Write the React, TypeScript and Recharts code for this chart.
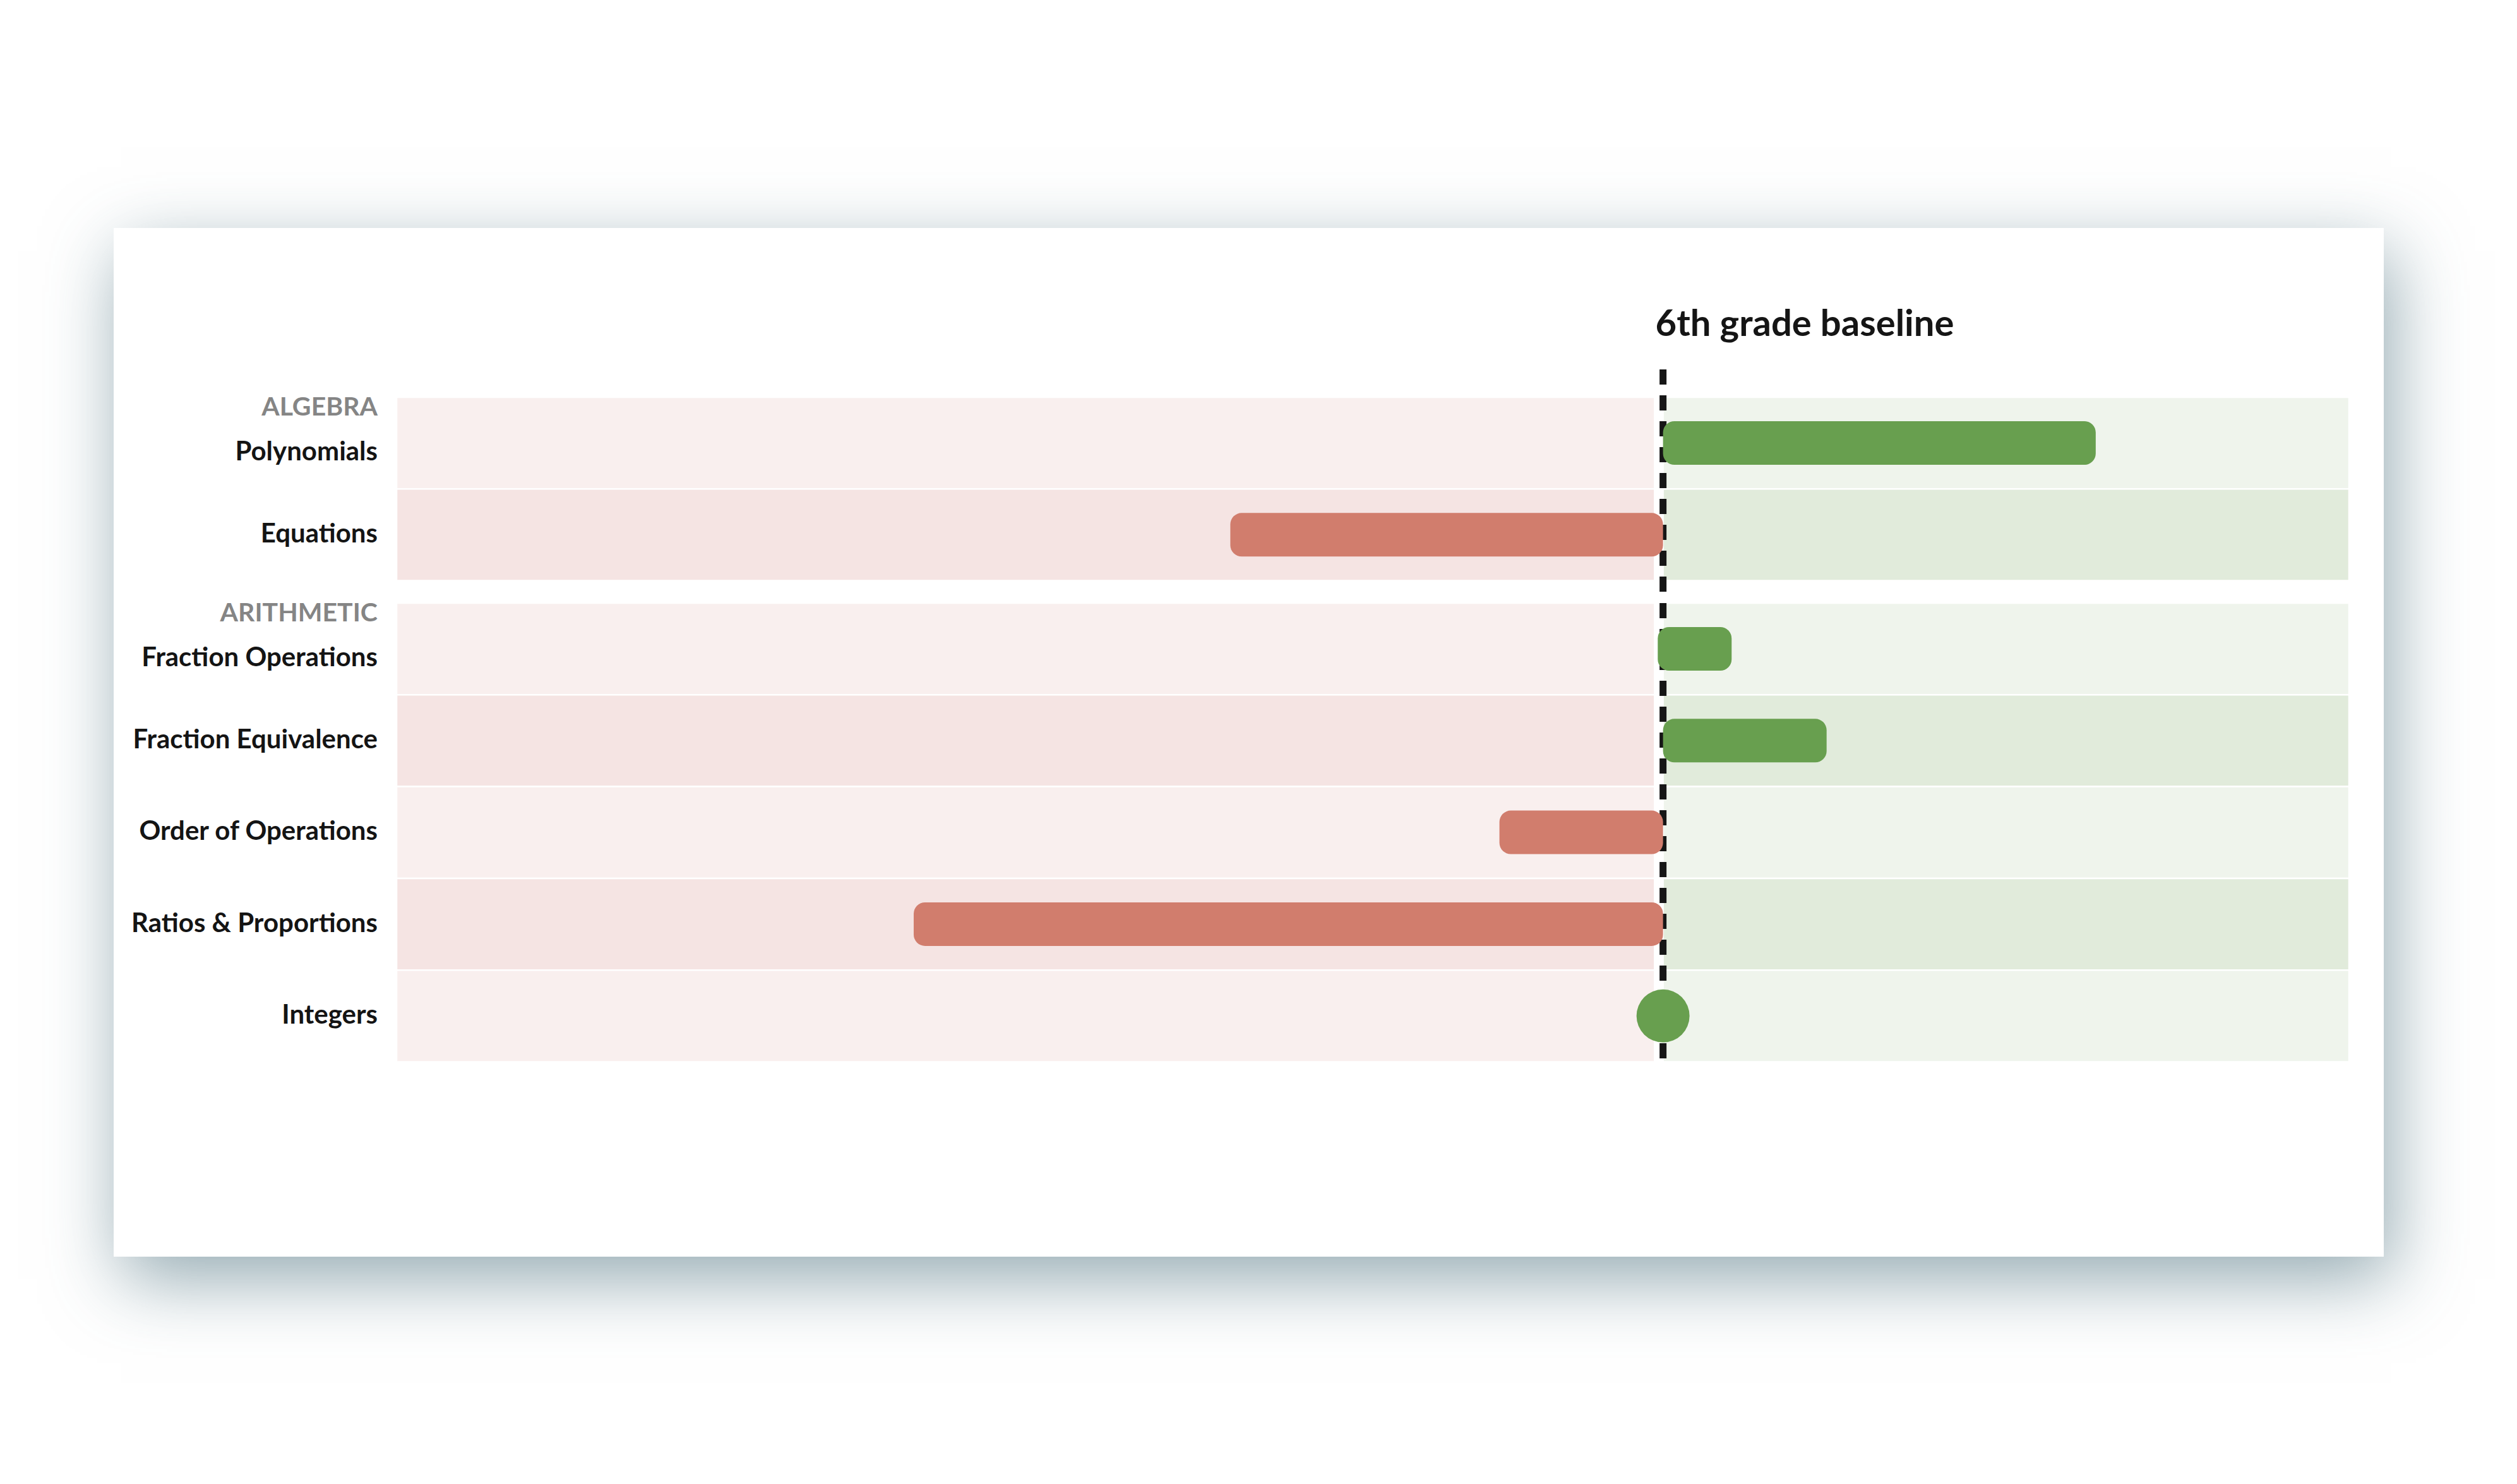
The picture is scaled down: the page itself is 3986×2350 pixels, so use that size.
import React from "react";
import { ComposedChart, Bar, XAxis, YAxis, ReferenceArea, ReferenceLine } from "recharts";

// topics per strand, each bar spans [from, to] relative to the grade baseline
const algebraTopics = ["Polynomials", "Equations"];
const algebraFrom = [0, -8.2];
const algebraTo = [8.2, 0];

const arithmeticTopics = [
  "Fraction Operations",
  "Fraction Equivalence",
  "Order of Operations",
  "Ratios & Proportions",
  "Integers",
];
const arithmeticFrom = [-0.1, 0, -3.1, -14.2, 0];
const arithmeticTo = [1.3, 3.1, 0, 0, 0];

const groupNames = ["ALGEBRA", "ARITHMETIC"];
const xDomain: [number, number] = [-24, 13];
const baseline = 0;
const baselineLabel = "6th grade baseline";

const GREEN = "#689f4f";
const RED = "#d17d6d";
const PINK = ["#f9efee", "#f5e4e3"];
const MINT = ["#eff4ec", "#e1ebdb"];
const FONT = "Lato, 'Open Sans', sans-serif";

const CARD = { left: 180, top: 361, width: 3595, height: 1629 };
const ROW_H = 145.3;

type Row = { topic: string; span: [number, number]; group?: string };

const makeRows = (topics: string[], from: number[], to: number[], group: string): Row[] =>
  topics.map((t, i) => ({ topic: t, span: [from[i], to[i]], group: i === 0 ? group : undefined }));

const algebraRows = makeRows(algebraTopics, algebraFrom, algebraTo, groupNames[0]);
const arithmeticRows = makeRows(arithmeticTopics, arithmeticFrom, arithmeticTo, groupNames[1]);

const TopicTick = (props: any) => {
  const { x, y, payload, rows } = props;
  const row: Row | undefined = rows[payload.index];
  const shift = row?.group ? 12 : -3;
  return (
    <g>
      {row?.group && (
        <text x={x} y={y - 58} dy="0.36em" textAnchor="end" fontFamily={FONT} fontWeight={700} fontSize={41} fill="#858585">
          {row.group}
        </text>
      )}
      <text x={x} y={y + shift} dy="0.36em" textAnchor="end" fontFamily={FONT} fontWeight={700} fontSize={42} fill="#141414">
        {payload.value}
      </text>
    </g>
  );
};

const TopicBar = (props: any) => {
  const { x, y, width, height, payload } = props;
  const [lo, hi] = payload.span;
  if (lo === hi) {
    // topic sits right on the baseline -> dot
    return <circle cx={x} cy={y + height / 2} r={42} fill={GREEN} />;
  }
  const left = Math.min(x, x + width);
  const w = Math.abs(width);
  return <rect x={left} y={y} width={w} height={height} rx={18} ry={18} fill={hi > 0 ? GREEN : RED} />;
};

const BaselineTitle = (props: any) => {
  const vb = props.viewBox || {};
  return (
    <text x={vb.x - 12} y={vb.y - 97} fontFamily={FONT} fontWeight={700} fontSize={58} fill="#151515">
      {baselineLabel}
    </text>
  );
};

function StrandChart({
  rows,
  top,
  marginTop,
  marginBottom,
  extendTop,
  extendBottom,
  title,
}: {
  rows: Row[];
  top: number;
  marginTop: number;
  marginBottom: number;
  extendTop: number;
  extendBottom: number;
  title?: boolean;
}) {
  const height = marginTop + marginBottom + rows.length * ROW_H;

  const dashShape = (p: any) => {
    const yTop = Math.min(p.y1, p.y2);
    const yBot = Math.max(p.y1, p.y2);
    return (
      <g>
        <line x1={p.x1 - 7} x2={p.x1 - 7} y1={yTop} y2={yBot} stroke="#fff" strokeWidth={15} />
        <line
          x1={p.x1}
          x2={p.x1}
          y1={yTop - extendTop}
          y2={yBot + extendBottom}
          stroke="#161616"
          strokeWidth={11}
          strokeDasharray="24 17"
        />
      </g>
    );
  };

  return (
    <div style={{ position: "absolute", left: CARD.left, top }}>
      <ComposedChart
        width={CARD.width}
        height={height}
        data={rows}
        layout="vertical"
        margin={{ top: marginTop, right: 55, bottom: marginBottom, left: 0 }}
      >
        <XAxis type="number" domain={xDomain} hide allowDataOverflow />
        <YAxis
          type="category"
          dataKey="topic"
          width={448}
          tickLine={false}
          axisLine={false}
          tickSize={0}
          tickMargin={30}
          interval={0}
          tick={<TopicTick rows={rows} />}
        />
        {rows.map((r, i) => (
          <ReferenceArea
            key={"p" + r.topic}
            y1={r.topic}
            y2={r.topic}
            x1={xDomain[0]}
            x2={baseline}
            fill={PINK[i % 2]}
            fillOpacity={1}
            stroke="#fff"
            strokeWidth={2.5}
          />
        ))}
        {rows.map((r, i) => (
          <ReferenceArea
            key={"g" + r.topic}
            y1={r.topic}
            y2={r.topic}
            x1={baseline}
            x2={xDomain[1]}
            fill={MINT[i % 2]}
            fillOpacity={1}
            stroke="#fff"
            strokeWidth={2.5}
          />
        ))}
        <ReferenceLine
          x={baseline}
          zIndex={250}
          shape={dashShape}
          label={title ? <BaselineTitle /> : undefined}
        />
        <Bar dataKey="span" barSize={69} shape={<TopicBar />} isAnimationActive={false} />
      </ComposedChart>
    </div>
  );
}

export default function App() {
  const plotTopA = 629;
  const marginTopA = 189;
  const gap = 35;
  const marginTopB = 90;
  const plotTopB = plotTopA + algebraRows.length * ROW_H + gap;
  return (
    <div style={{ position: "absolute", left: 0, top: 0, width: 3986, height: 2350, background: "#fff", overflow: "hidden" }}>
      <div
        style={{
          position: "absolute",
          left: CARD.left,
          top: CARD.top,
          width: CARD.width,
          height: CARD.height,
          background: "#fff",
          boxShadow: "12px 36px 110px rgba(60,100,115,0.55)",
        }}
      />
      <StrandChart
        rows={algebraRows}
        top={plotTopA - marginTopA}
        marginTop={marginTopA}
        marginBottom={gap}
        extendTop={44}
        extendBottom={gap}
        title
      />
      <StrandChart
        rows={arithmeticRows}
        top={plotTopB - marginTopB}
        marginTop={marginTopB}
        marginBottom={20}
        extendTop={0}
        extendBottom={0}
      />
    </div>
  );
}
